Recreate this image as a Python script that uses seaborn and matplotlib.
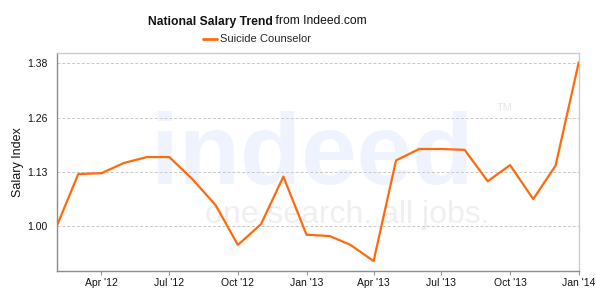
import matplotlib
matplotlib.use("Agg")
import matplotlib.pyplot as plt
import matplotlib.dates as mdates
import seaborn as sns
import pandas as pd

months = ["2012-02", "2012-03", "2012-04", "2012-05", "2012-06", "2012-07",
          "2012-08", "2012-09", "2012-10", "2012-11", "2012-12", "2013-01",
          "2013-02", "2013-03", "2013-04", "2013-05", "2013-06", "2013-07",
          "2013-08", "2013-09", "2013-10", "2013-11", "2013-12", "2014-01"]
salary_index = [1.000, 1.123, 1.125, 1.149, 1.163, 1.163,
                1.111, 1.050, 0.956, 1.005, 1.117, 0.980,
                0.977, 0.956, 0.918, 1.155, 1.182, 1.182,
                1.180, 1.106, 1.144, 1.064, 1.143, 1.386]
series_name = "Suicide Counselor"
y_ticks = [1.000, 1.128, 1.256, 1.384]
y_tick_labels = ["1.00", "1.13", "1.26", "1.38"]

df = pd.DataFrame({"date": pd.to_datetime(months), "value": salary_index,
                   "series": series_name})

sns.set_style("white")
plt.rcParams["font.family"] = ["Liberation Sans", "DejaVu Sans"]

fig = plt.figure(figsize=(5.96, 2.96), dpi=100)
ax = fig.add_axes([0.0951, 0.0855, 0.971 - 0.0951, 0.8193 - 0.0855])

# watermark
ax.text(0.18, 0.40, "indeed", transform=ax.transAxes, fontsize=72,
        fontweight="bold", color="#eef3fd", zorder=0.1, ha="left",
        va="baseline")
ax.text(0.284, 0.22, "one search. all jobs.", transform=ax.transAxes,
        fontsize=23, color="#efefef", zorder=0.1, ha="left", va="baseline")
ax.text(0.843, 0.749, "TM", transform=ax.transAxes, fontsize=8,
        color="#e6e6e6", zorder=0.1, ha="left", va="center")

sns.lineplot(data=df, x="date", y="value", hue="series",
             palette=["#ff6a0d"], linewidth=1.6, ax=ax, zorder=3)

ax.set_xlim(pd.Timestamp("2012-02-01"), pd.Timestamp("2014-01-01"))
ax.set_ylim(0.8953, 1.407)
ax.set_yticks(y_ticks)
ax.set_yticklabels(y_tick_labels)
ax.xaxis.set_major_locator(mdates.MonthLocator(bymonth=[1, 4, 7, 10]))
ax.xaxis.set_major_formatter(mdates.DateFormatter("%b '%y"))

ax.set_axisbelow(True)
ax.yaxis.grid(True, linestyle=(0, (3, 2)), color="#c8c8c8", linewidth=0.7)
ax.xaxis.grid(False)

ax.set_xlabel("")
ax.set_ylabel("Salary Index", fontsize=9, color="#111111", labelpad=2)

ax.tick_params(axis="x", which="major", bottom=True, length=3, width=0.8,
               color="#999999", labelsize=7.5, labelcolor="#111111", pad=2)
ax.tick_params(axis="y", left=False, labelsize=7.5, labelcolor="#111111",
               pad=3)

for side in ["left", "bottom"]:
    ax.spines[side].set_color("#8c8c8c")
    ax.spines[side].set_linewidth(1.0)
for side in ["top", "right"]:
    ax.spines[side].set_color("#cccccc")
    ax.spines[side].set_linewidth(1.0)

# title
t1 = fig.text(0.2475, 1 - 24.5 / 296, "National Salary Trend", fontsize=8.7,
              fontweight="bold", color="#111111", ha="left", va="baseline")
fig.canvas.draw()
ann = ax.annotate(" from Indeed.com", xy=(1, 0), xycoords=t1, fontsize=8.7,
                  color="#111111", ha="left", va="bottom",
                  annotation_clip=False)

leg = ax.legend(loc="center", bbox_to_anchor=(257 / 596, 1 - 39.5 / 296),
                bbox_transform=fig.transFigure, frameon=False, fontsize=8,
                handlelength=1.3, handletextpad=0.3, borderaxespad=0,
                borderpad=0)
for line in leg.get_lines():
    line.set_linewidth(2)

fig.savefig("out.png", dpi=100)
